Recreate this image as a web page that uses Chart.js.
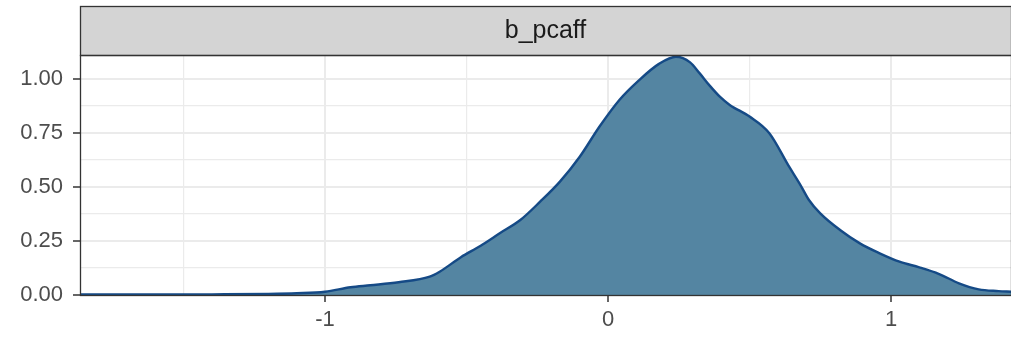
<!DOCTYPE html>
<html>
<head>
<meta charset="utf-8">
<script src="https://cdn.jsdelivr.net/npm/chart.js@4"></script>
<style>
  body { margin: 0; background: #ffffff; }
  #wrap { width: 1011px; height: 338px; }
</style>
</head>
<body>
<div id="wrap"><canvas id="density" width="1011" height="338"></canvas></div>
<script>
/* =========================
   DATA
========================= */
const panelLabel = 'b_pcaff';

const densX = [-1.866, -1.6, -1.4, -1.2, -1.1, -1.0, -0.91, -0.84, -0.74, -0.63, -0.595,
  -0.52, -0.45, -0.38, -0.31, -0.24, -0.17, -0.10, -0.03, 0.04, 0.11, 0.18, 0.24, 0.29,
  0.324, 0.36, 0.395, 0.43, 0.50, 0.57, 0.64, 0.68, 0.71, 0.75, 0.82, 0.89, 0.96, 1.03,
  1.10, 1.17, 1.24, 1.31, 1.38, 1.424];
const densY = [0.002, 0.002, 0.003, 0.005, 0.008, 0.015, 0.036, 0.045, 0.059, 0.085, 0.108,
  0.175, 0.228, 0.288, 0.347, 0.432, 0.525, 0.64, 0.78, 0.903, 0.995, 1.07, 1.103, 1.077,
  1.026, 0.968, 0.918, 0.88, 0.826, 0.749, 0.594, 0.509, 0.44, 0.378, 0.301, 0.239, 0.193,
  0.154, 0.128, 0.097, 0.054, 0.026, 0.018, 0.015];

// grid positions (major ones get a label)
const xGrid = [-1.5, -1, -0.5, 0, 0.5, 1];
const yGrid = [0, 0.125, 0.25, 0.375, 0.5, 0.625, 0.75, 0.875, 1];

const xRange = [-1.866, 1.424];
const yRange = [0, 1.111];

/* =========================
   HELPERS
========================= */
const isMajorX = v => Math.abs(v - Math.round(v)) < 1e-6;
const isMajorY = v => Math.abs(v * 4 - Math.round(v * 4)) < 1e-6;

const FONT = '"Liberation Sans", Arial, sans-serif';

/* =========================
   PLUGINS: background, strip, panel border
========================= */
const facetDecor = {
  id: 'facetDecor',
  beforeDraw(chart) {
    const c = chart.ctx;
    c.save();
    c.fillStyle = '#ffffff';
    c.fillRect(0, 0, chart.width, chart.height);
    c.restore();
  },
  afterDraw(chart) {
    const c = chart.ctx;
    const a = chart.chartArea;
    c.save();
    // strip on top of the panel
    c.fillStyle = '#d4d4d4';
    c.fillRect(a.left, 6, a.right - a.left, a.top - 6);
    c.strokeStyle = '#333333';
    c.lineWidth = 1.3;
    c.strokeRect(a.left + 0.5, 6.5, a.right - a.left, a.top - 6);
    c.fillStyle = '#1a1a1a';
    c.font = '25px ' + FONT;
    c.textAlign = 'center';
    c.textBaseline = 'middle';
    c.fillText(panelLabel, (a.left + a.right) / 2, (6 + a.top) / 2 + 1);
    // panel border
    c.strokeRect(a.left + 0.5, a.top + 0.5, a.right - a.left, a.bottom - a.top);
    c.restore();
  }
};

/* =========================
   CHART
========================= */
const points = densX.map((x, i) => ({ x: x, y: densY[i] }));

const ctx = document.getElementById('density').getContext('2d');

new Chart(ctx, {
  type: 'line',
  data: {
    datasets: [{
      data: points,
      borderColor: '#154a86',
      borderWidth: 2.4,
      backgroundColor: '#5485a2',
      fill: 'origin',
      pointRadius: 0,
      cubicInterpolationMode: 'monotone'
    }]
  },
  options: {
    responsive: false,
    animation: false,
    layout: { padding: { top: 55, left: 0, right: 0, bottom: 0 } },
    plugins: { legend: { display: false }, tooltip: { enabled: false } },
    scales: {
      x: {
        type: 'linear',
        min: xRange[0],
        max: xRange[1],
        afterBuildTicks: s => { s.ticks = xGrid.map(v => ({ value: v })); },
        afterFit: s => { s.height = 43; },
        border: { display: false },
        grid: {
          color: '#ebebeb',
          lineWidth: c => (c.tick && isMajorX(c.tick.value) ? 2 : 1.2),
          tickLength: 7,
          tickWidth: 1.5,
          tickColor: c => (c.tick && isMajorX(c.tick.value) ? '#333333' : 'rgba(0,0,0,0)')
        },
        ticks: {
          autoSkip: false,
          maxRotation: 0,
          padding: 5,
          color: '#4d4d4d',
          font: { family: FONT, size: 22 },
          callback: v => (isMajorX(v) ? String(Math.round(v)) : '')
        }
      },
      y: {
        min: yRange[0],
        max: yRange[1],
        afterBuildTicks: s => { s.ticks = yGrid.map(v => ({ value: v })); },
        afterFit: s => { s.width = 80; },
        border: { display: false },
        grid: {
          color: '#ebebeb',
          lineWidth: c => (c.tick && isMajorY(c.tick.value) ? 2 : 1.2),
          tickLength: 7,
          tickWidth: 1.5,
          tickColor: c => (c.tick && isMajorY(c.tick.value) ? '#333333' : 'rgba(0,0,0,0)')
        },
        ticks: {
          autoSkip: false,
          padding: 10,
          color: '#4d4d4d',
          font: { family: FONT, size: 22 },
          callback: v => (isMajorY(v) ? v.toFixed(2) : '')
        }
      }
    }
  },
  plugins: [facetDecor]
});
</script>
</body>
</html>
